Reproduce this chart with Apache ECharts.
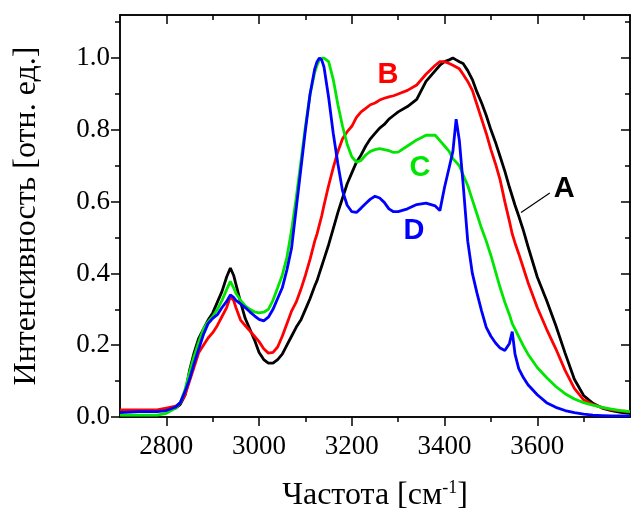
<!DOCTYPE html>
<html>
<head>
<meta charset="utf-8">
<script src="https://cdn.jsdelivr.net/npm/echarts@6/dist/echarts.min.js"></script>
<style>
  html, body { margin: 0; padding: 0; background: #fff; }
  #chart { width: 631px; height: 511px; }
</style>
</head>
<body>
<div id="chart"></div>
<script>
// частота, см-1
const freq = [
  2700, 2740, 2780, 2800, 2820, 2830, 2840, 2850, 2860, 2870,
  2880, 2890, 2900, 2910, 2920, 2930, 2938, 2945, 2950, 2960,
  2970, 2980, 2990, 3000, 3010, 3020, 3030, 3040, 3050, 3060,
  3070, 3080, 3090, 3100, 3110, 3120, 3125, 3130, 3135, 3140,
  3150, 3160, 3170, 3180, 3190, 3200, 3210, 3220, 3230, 3240,
  3250, 3260, 3270, 3280, 3290, 3300, 3320, 3340, 3360, 3380,
  3390, 3400, 3410, 3418, 3425, 3432, 3440, 3450, 3460, 3470,
  3480, 3490, 3500, 3510, 3520, 3530, 3540, 3546, 3552, 3560,
  3570, 3580, 3600, 3620, 3640, 3660, 3680, 3700, 3720, 3740,
  3760, 3780, 3800
]

// A - черная
const specA = [
  0.015, 0.018, 0.017, 0.02, 0.025, 0.035, 0.06, 0.13, 0.18, 0.22,
  0.245, 0.27, 0.29, 0.32, 0.35, 0.39, 0.415, 0.395, 0.37, 0.32,
  0.275, 0.245, 0.215, 0.18, 0.16, 0.15, 0.15, 0.16, 0.175, 0.2,
  0.225, 0.25, 0.27, 0.3, 0.33, 0.365, 0.38, 0.4, 0.42, 0.44,
  0.48, 0.525, 0.57, 0.61, 0.65, 0.68, 0.71, 0.73, 0.755, 0.775,
  0.79, 0.805, 0.815, 0.83, 0.84, 0.85, 0.865, 0.885, 0.935, 0.965,
  0.98, 0.99, 0.995, 1.0, 0.995, 0.99, 0.985, 0.965, 0.94, 0.905,
  0.875, 0.84, 0.8, 0.765, 0.725, 0.685, 0.64, 0.615, 0.59, 0.56,
  0.52, 0.475, 0.39, 0.325, 0.255, 0.178, 0.105, 0.06, 0.038, 0.025,
  0.018, 0.013, 0.01
]

// B - красная
const specB = [
  0.02, 0.02, 0.02, 0.025, 0.03, 0.04, 0.06, 0.1, 0.14, 0.18,
  0.2, 0.22, 0.235, 0.255, 0.28, 0.305, 0.335, 0.325, 0.305, 0.27,
  0.255, 0.24, 0.225, 0.21, 0.19, 0.178, 0.18, 0.195, 0.225, 0.26,
  0.295, 0.32, 0.355, 0.395, 0.44, 0.49, 0.51, 0.535, 0.56, 0.59,
  0.645, 0.695, 0.74, 0.775, 0.795, 0.81, 0.835, 0.85, 0.86, 0.87,
  0.875, 0.883, 0.888, 0.892, 0.895, 0.9, 0.91, 0.925, 0.955, 0.98,
  0.99, 0.99, 0.985, 0.98, 0.975, 0.97, 0.955, 0.935, 0.91, 0.87,
  0.83, 0.79, 0.745, 0.705, 0.66, 0.6, 0.545, 0.51, 0.485, 0.455,
  0.415, 0.375, 0.305, 0.245, 0.19, 0.13, 0.08, 0.048, 0.035, 0.026,
  0.02, 0.017, 0.015
]

// C - зеленая
const specC = [
  0.005, 0.005, 0.005, 0.01, 0.025, 0.04, 0.075, 0.125, 0.17, 0.21,
  0.245, 0.265, 0.28, 0.3, 0.325, 0.355, 0.378, 0.36, 0.345, 0.325,
  0.31, 0.3, 0.293, 0.29, 0.292, 0.3, 0.325, 0.36, 0.395, 0.445,
  0.52, 0.61, 0.71, 0.81, 0.9, 0.96, 0.98, 0.995, 1.0, 1.0,
  0.99, 0.94, 0.87, 0.81, 0.76, 0.725, 0.71, 0.715, 0.73, 0.74,
  0.745, 0.748, 0.745, 0.742, 0.737, 0.738, 0.755, 0.772, 0.785, 0.785,
  0.77, 0.755, 0.74, 0.72, 0.71, 0.7, 0.675, 0.645, 0.605, 0.565,
  0.525, 0.49, 0.45, 0.405, 0.36, 0.32, 0.285, 0.26, 0.245, 0.224,
  0.198, 0.175, 0.138, 0.11, 0.085, 0.065, 0.05, 0.04, 0.033, 0.027,
  0.022, 0.018, 0.015
]

// D - синяя
const specD = [
  0.012, 0.015, 0.015, 0.018, 0.028, 0.04, 0.07, 0.105, 0.15, 0.19,
  0.23, 0.26, 0.275, 0.285, 0.305, 0.322, 0.34, 0.333, 0.325, 0.315,
  0.305, 0.293, 0.282, 0.272, 0.268, 0.278, 0.3, 0.33, 0.36, 0.41,
  0.47, 0.58, 0.69, 0.8, 0.9, 0.97, 0.99, 1.0, 0.995, 0.975,
  0.89, 0.79, 0.705, 0.63, 0.59, 0.572, 0.57, 0.582, 0.595, 0.607,
  0.615, 0.61, 0.598, 0.58, 0.572, 0.572, 0.58, 0.592, 0.596, 0.588,
  0.575, 0.64, 0.695, 0.74, 0.83, 0.77, 0.65, 0.49, 0.4, 0.345,
  0.295, 0.25, 0.225, 0.206, 0.192, 0.185, 0.205, 0.238, 0.175, 0.135,
  0.11, 0.09, 0.062, 0.04, 0.027, 0.018, 0.012, 0.008, 0.005, 0.004,
  0.003, 0.003, 0.003
]

const xMajorTicks = [2800, 3000, 3200, 3400, 3600]
const xMinorTicks = [2900, 3100, 3300, 3500, 3700]
const yMajorTicks = [0, 0.2, 0.4, 0.6, 0.8, 1.0]
const yMinorTicks = [0.1, 0.3, 0.5, 0.7, 0.9, 1.1]

// подписи кривых
const curveNames = ['A', 'B', 'C', 'D']
const curveColors = ['#000000', '#ff0000', '#00e600', '#0000ff']
const tagX = [3658, 3278, 3347, 3334]
const tagY = [0.636, 0.953, 0.694, 0.519]
const leaderX = [3627, 3565]
const leaderY = [0.624, 0.570]

const specs = [specA, specB, specC, specD]

const chart = echarts.init(document.getElementById('chart'), null, { renderer: 'canvas' })

const serif = 'Liberation Serif'
function tickAxis(pos, vals, len, inside, labels) {
  const isX = pos === 'bottom' || pos === 'top'
  const ax = {
    type: 'value',
    position: pos,
    min: isX ? 2700 : 0,
    max: isX ? 3800 : 1.12,
    axisLine: { show: true, onZero: false, lineStyle: { color: '#000', width: 1.5 } },
    axisTick: { show: true, inside: inside, length: len, customValues: vals, lineStyle: { color: '#000', width: 1.5 } },
    axisLabel: { show: false },
    splitLine: { show: false }
  }
  if (labels) {
    ax.axisLabel = {
      show: true,
      customValues: vals,
      fontFamily: serif,
      fontSize: 27,
      color: '#000',
      margin: isX ? 16 : 10,
      formatter: v => isX ? String(v) : v.toFixed(1)
    }
  }
  return ax
}

const xAxes = [
  tickAxis('bottom', xMajorTicks, 9, false, true),
  tickAxis('bottom', xMinorTicks, 5, false, false),
  tickAxis('top', xMajorTicks, 9, true, false),
  tickAxis('top', xMinorTicks, 5, true, false)
]
xAxes[0].name = 'Частота [см{sup|-1}]'
xAxes[0].nameLocation = 'middle'
xAxes[0].nameGap = 62
xAxes[0].nameTextStyle = {
  fontFamily: serif, fontSize: 32, color: '#000',
  rich: { sup: { fontFamily: serif, fontSize: 18, verticalAlign: 'top', padding: [0, 0, 16, 0] } }
}

const yAxes = [
  tickAxis('left', yMajorTicks, 9, false, true),
  tickAxis('left', yMinorTicks, 5, false, false),
  tickAxis('right', yMajorTicks, 9, true, false),
  tickAxis('right', yMinorTicks, 5, true, false)
]
yAxes[0].name = 'Интенсивность [отн. ед.]'
yAxes[0].nameLocation = 'middle'
yAxes[0].nameGap = 77
yAxes[0].nameTextStyle = { fontFamily: serif, fontSize: 32, color: '#000' }

const series = specs.map((s, i) => ({
  name: curveNames[i],
  type: 'line',
  data: freq.map((f, j) => [f, s[j]]),
  showSymbol: false,
  lineStyle: { color: curveColors[i], width: 2.8 },
  z: 2 + i
}))

// выноска к кривой A
series.push({
  type: 'line',
  data: leaderX.map((x, i) => [x, leaderY[i]]),
  showSymbol: false,
  lineStyle: { color: '#000', width: 1.2 },
  z: 10
})

// буквы A-D
series.push({
  type: 'custom',
  data: curveNames.map((n, i) => [tagX[i], tagY[i], i]),
  renderItem: (params, api) => {
    const p = api.coord([api.value(0), api.value(1)])
    const i = api.value(2)
    return {
      type: 'text',
      x: p[0],
      y: p[1],
      style: {
        text: curveNames[i],
        fill: curveColors[i],
        font: 'bold 29px "Liberation Sans"',
        align: 'center',
        verticalAlign: 'middle'
      }
    }
  },
  z: 11
})

chart.setOption({
  animation: false,
  grid: { left: 120, right: 1, top: 15, bottom: 94, outerBoundsMode: 'none' },
  xAxis: xAxes,
  yAxis: yAxes,
  series: series
})
</script>
</body>
</html>
